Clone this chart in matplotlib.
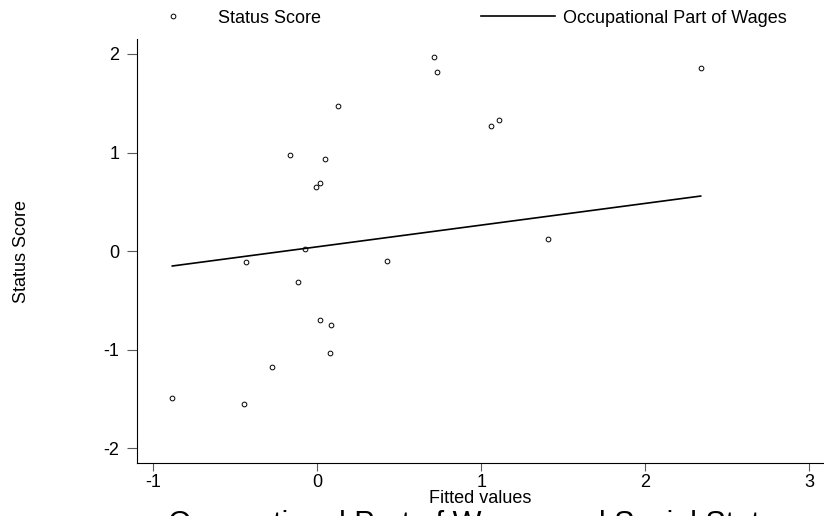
import numpy as np
import matplotlib
matplotlib.use('Agg')
import matplotlib.pyplot as plt

plt.rcParams['font.family'] = ['Liberation Sans', 'DejaVu Sans']

# fitted values (x) and status score (y)
fitted = [-0.884, -0.445, -0.433, -0.274, -0.116, -0.166, -0.073, -0.008, 0.015,
          0.016, 0.049, 0.082, 0.076, 0.128, 0.427, 0.710, 0.730, 1.057, 1.106,
          1.405, 2.338]
status = [-1.489, -1.553, -0.109, -1.178, -0.315, 0.972, 0.020, 0.653, 0.690,
          -0.697, 0.934, -0.748, -1.036, 1.472, -0.105, 1.973, 1.814, 1.266, 1.333,
          0.119, 1.858]

# occupational part of wages line
line_x = [-0.884, 2.338]
line_y = [-0.152, 0.558]

xticks = [-1, 0, 1, 2, 3]
yticks = [-2, -1, 0, 1, 2]

fig = plt.figure(figsize=(8.24, 5.16), dpi=100)
ax = fig.add_axes([0.1659, 0.1021, 1 - 0.1659, 0.9238 - 0.1021])

ax.plot(fitted, status, linestyle='none', marker='o', markersize=3.4,
        markerfacecolor='none', markeredgecolor='black', markeredgewidth=0.7,
        label='Status Score')
ax.plot(line_x, line_y, color='black', lw=1.2, label='Occupational Part of Wages')

ax.set_xlim(-1.101, 3.09)
ax.set_ylim(-2.155, 2.149)
ax.set_xticks(xticks)
ax.set_yticks(yticks)
ax.set_xticklabels([str(t) for t in xticks])
ax.set_yticklabels([str(t) for t in yticks])

for s in ['top', 'right']:
    ax.spines[s].set_visible(False)
for s in ['left', 'bottom']:
    ax.spines[s].set_linewidth(0.8)

ax.tick_params(axis='x', length=6, width=0.8, color='0.35', labelsize=13, pad=1.5)
ax.tick_params(axis='y', length=7.5, width=0.8, color='0.35', labelsize=13, pad=5)

ax.set_xlabel('Fitted values', fontsize=13)
ax.xaxis.set_label_coords(0.5, -0.062)
ax.set_ylabel('Status Score', fontsize=13)
ax.yaxis.set_label_coords(-0.155, 0.5)

ax.legend(loc='center left', bbox_to_anchor=(136.5 / 824, 0.965),
          bbox_transform=fig.transFigure, ncol=2, frameon=False, fontsize=13,
          borderpad=0, borderaxespad=0, handlelength=4.06, handletextpad=0.44,
          columnspacing=8.9, numpoints=1)

fig.text(480 / 824, -0.033, 'Occupational Part of Wages and Social Status',
         fontsize=22, ha='center', va='baseline')

fig.savefig('out.png', dpi=100)
